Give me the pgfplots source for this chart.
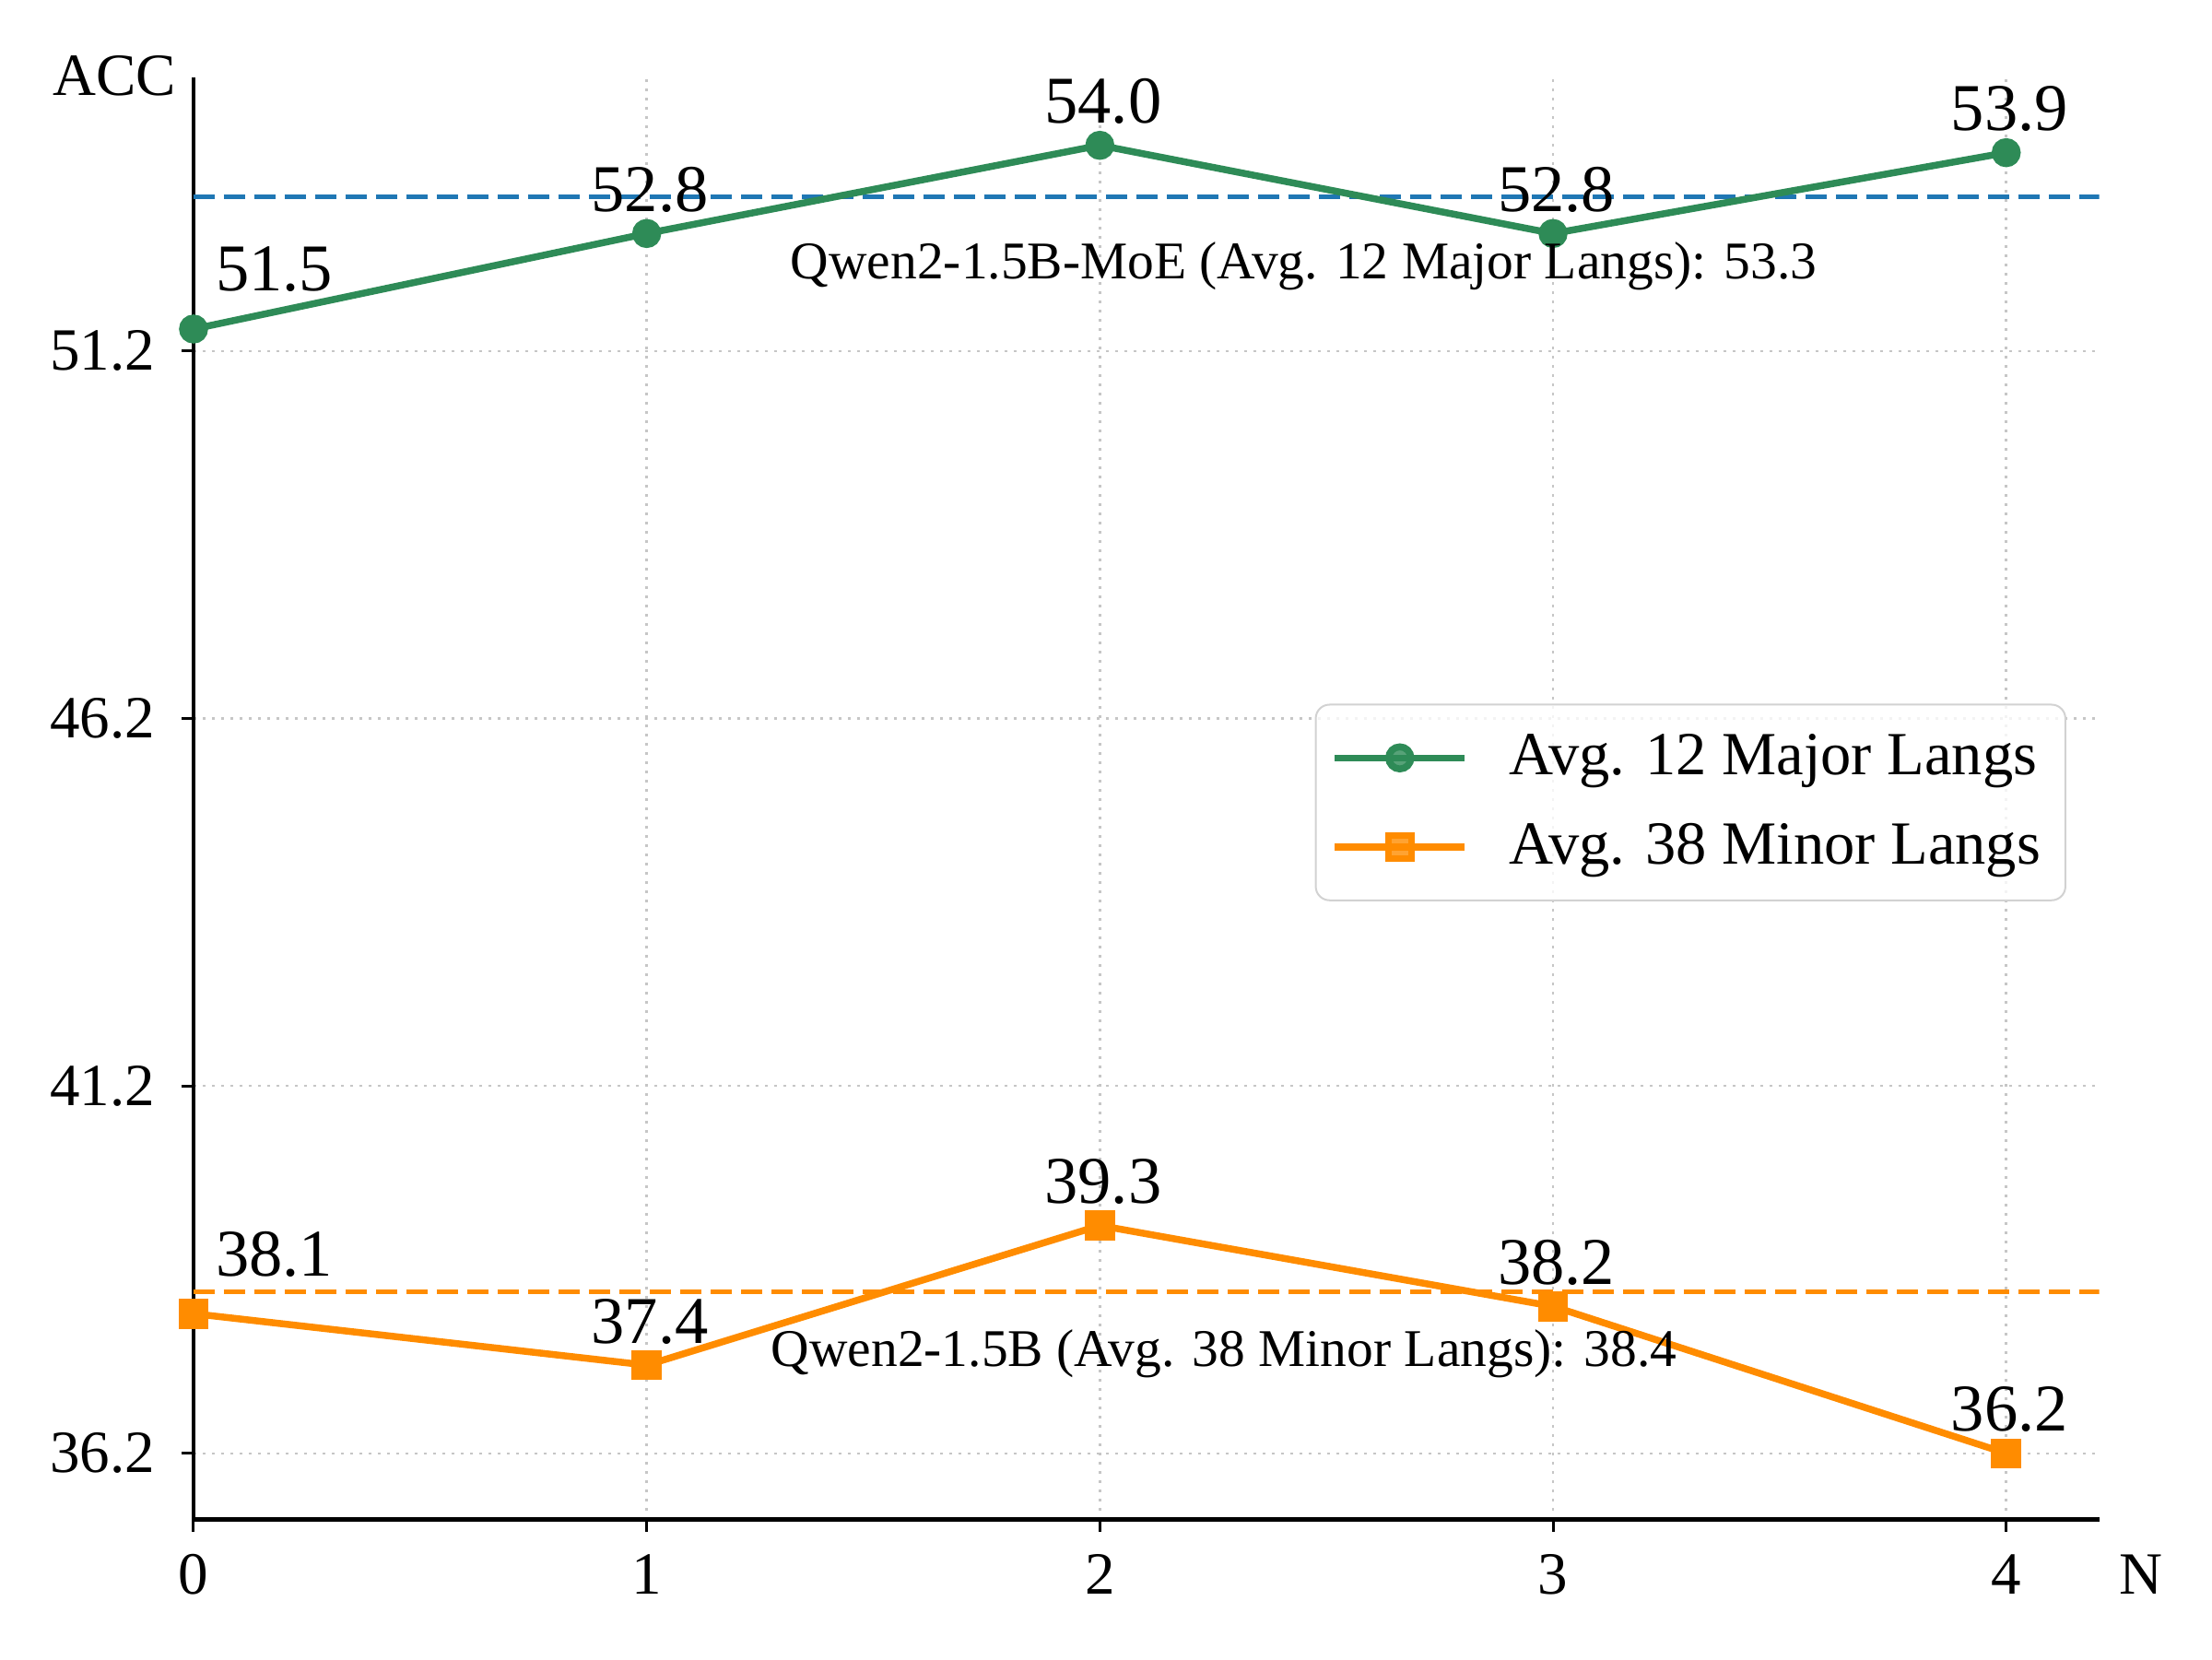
\documentclass[border=0pt]{standalone}
\usepackage{fontspec}
\setmainfont{Liberation Serif}
\usepackage{pgfplots}
\pgfplotsset{compat=1.18}
\definecolor{cgreen}{HTML}{2E8B57}
\definecolor{corange}{HTML}{FF8C00}
\definecolor{cblue}{HTML}{1F77B4}
\begin{document}
\begin{tikzpicture}
% page box: the axis box runs from (0,0) to (413.5pt,313pt)
\path[use as bounding box] (-42pt,-30.3pt) rectangle (438pt,329.7pt);
\begin{axis}[
  at={(0pt,0pt)}, anchor=south west,
  width=413.5pt, height=313pt, scale only axis,
  xmin=0, xmax=4.205, ymin=35.30, ymax=54.93,
  xtick={0,1,2,3,4}, ytick={36.2,41.2,46.2,51.2},
  axis lines=left, axis line style={-, line width=0.95pt},
  tick align=outside, major tick length=2.6pt,
  tick style={black, line width=0.6pt},
  grid=major, grid style={gray!45, line width=0.5pt, dash pattern=on 0.6pt off 1.4pt},
  /pgf/number format/assume math mode=true,
  yticklabel style={xshift=-2.3pt, /pgf/number format/fixed, /pgf/number format/fixed zerofill, /pgf/number format/precision=1},
  xticklabel style={yshift=-1.5pt},
  ticklabel style={font=\fontsize{13}{15}\selectfont},
  clip mode=individual,
  legend cell align=left,
  legend style={at={(0.9828,0.5655)}, anchor=north east, draw=gray!35,
    rounded corners=3pt, fill=white, fill opacity=0.8, text opacity=1,
    font=\fontsize{13.3}{15}\selectfont, inner xsep=3.4pt, inner ysep=4.4pt,
    row sep=5pt, /tikz/every odd column/.append style={column sep=6.8pt}},
  legend image code/.code={\draw[mark repeat=2,mark phase=2] plot coordinates {(0pt,0pt) (14.1pt,0pt) (28.2pt,0pt)};},
  visualization depends on={x \as \xv},
  nodes near coords style={text=black, font=\fontsize{14.5}{16}\selectfont, anchor=center,
    xshift={(\xv<0.5)*16.8+0.7}, yshift={(\xv<0.5)*3.4+9.5},
    /pgf/number format/fixed, /pgf/number format/fixed zerofill, /pgf/number format/precision=1},
]
\addplot[cblue, line width=0.9pt, dash pattern=on 4.6pt off 2pt, forget plot] coordinates {(0,53.3) (4.205,53.3)};
\addplot[corange, line width=0.9pt, dash pattern=on 4.6pt off 2pt, forget plot] coordinates {(0,38.4) (4.205,38.4)};
\addplot[cgreen, line width=1.5pt, mark=*, mark size=2.4pt, point meta=y, nodes near coords]
  coordinates {(0,51.5) (1,52.8) (2,54.0) (3,52.8) (4,53.9)};
\addlegendentry{Avg. 12 Major Langs}
\addplot[corange, line width=1.5pt, mark=square*, mark size=2.5pt, point meta=y, nodes near coords]
  coordinates {(0,38.1) (1,37.4) (2,39.3) (3,38.2) (4,36.2)};
\addlegendentry{Avg. 38 Minor Langs}
\node[font=\fontsize{11.5}{14}\selectfont] at (axis cs:2.45,52.36) {Qwen2-1.5B-MoE (Avg. 12 Major Langs): 53.3};
\node[font=\fontsize{11.5}{14}\selectfont] at (axis cs:2.274,37.55) {Qwen2-1.5B (Avg. 38 Minor Langs): 38.4};
\node[font=\fontsize{13}{15}\selectfont, inner sep=0pt, anchor=base east, xshift=-3.6pt, yshift=-4pt] at (rel axis cs:0,1) {ACC};
\node[font=\fontsize{13}{15}\selectfont, inner sep=0pt, anchor=base, xshift=9.1pt, yshift=-16.2pt] at (rel axis cs:1,0) {N};
\end{axis}
\end{tikzpicture}
\end{document}
